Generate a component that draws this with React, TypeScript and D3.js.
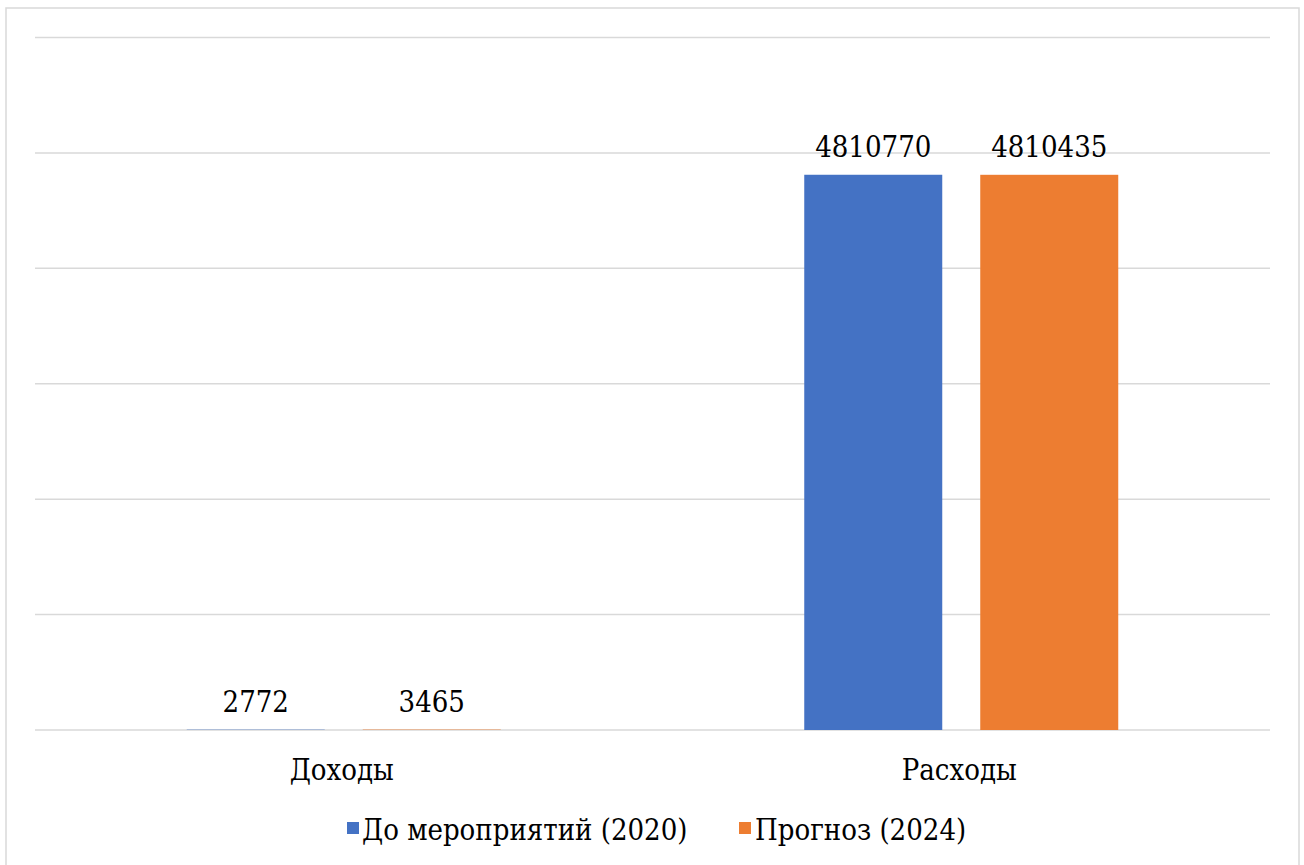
import React from "react";
import * as d3 from "d3";

const categories = ["Доходы", "Расходы"];
const seriesNames = ["До мероприятий (2020)", "Прогноз (2024)"];
const seriesColors = ["#4472C4", "#ED7D31"];
const before2020 = [2772, 4810770];
const forecast2024 = [3465, 4810435];
const yTicks = [0, 1000000, 2000000, 3000000, 4000000, 5000000, 6000000];

const W = 1304;
const H = 865;
const FONT = "DejaVu Serif Condensed, DejaVu Serif";
const FS = 29;

export default function App() {
  const plotLeft = 35;
  const plotRight = 1270;
  const yTop = 37.5;
  const yBottom = 730;

  const x0 = d3.scaleBand<string>().domain(categories).range([plotLeft, plotRight]).paddingInner(0).paddingOuter(0);
  const y = d3.scaleLinear().domain([0, 6000000]).range([yBottom, yTop]);
  const barW = 138;
  const gap = 38;
  const offsets = [-(gap / 2 + barW), gap / 2];
  const series = [before2020, forecast2024];

  return (
    <svg
      width={W}
      height={H}
      style={{ position: "absolute", left: 0, top: 0, background: "#fff", fontFamily: FONT, fontStretch: "condensed" }}
    >
      <rect x={6} y={8} width={1293} height={870} fill="#fff" stroke="#d9d9d9" strokeWidth={1.5} />
      {yTicks.map((t) => (
        <line key={t} x1={plotLeft} x2={plotRight} y1={y(t)} y2={y(t)} stroke="#d9d9d9" strokeWidth={1.5} />
      ))}
      {categories.map((c, ci) => {
        const cx = (x0(c) as number) + x0.bandwidth() / 2;
        return (
          <g key={c}>
            {series.map((s, si) => {
              const bx = cx + offsets[si];
              const v = s[ci];
              return (
                <g key={si}>
                  <rect x={bx} y={y(v)} width={barW} height={yBottom - y(v)} fill={seriesColors[si]} />
                  <text x={bx + barW / 2} y={y(v) - 18} textAnchor="middle" fontSize={FS} fill="#000">
                    {v}
                  </text>
                </g>
              );
            })}
            <text x={cx - 2} y={780} textAnchor="middle" fontSize={FS} fill="#000">
              {c}
            </text>
          </g>
        );
      })}
      <g>
        <rect x={347} y={822} width={12} height={12} fill={seriesColors[0]} />
        <text x={362} y={840} fontSize={FS} fill="#000">{seriesNames[0]}</text>
        <rect x={739} y={822} width={12} height={12} fill={seriesColors[1]} />
        <text x={755} y={840} fontSize={FS} fill="#000">{seriesNames[1]}</text>
      </g>
    </svg>
  );
}
